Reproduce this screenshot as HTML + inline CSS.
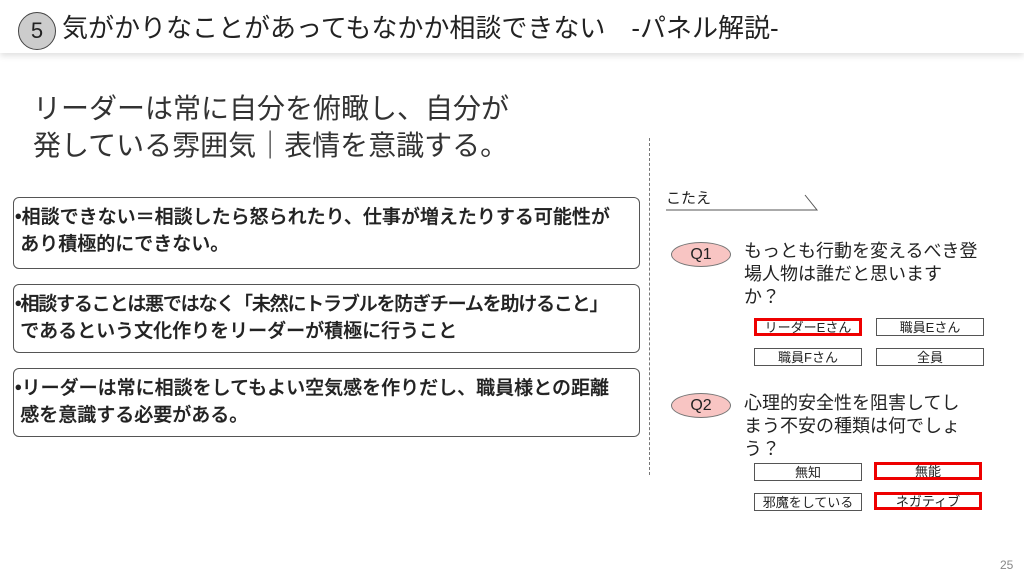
<!DOCTYPE html>
<html><head><meta charset="utf-8"><style>
body{margin:0;width:1024px;height:576px;background:#fff;position:relative;overflow:hidden;font-family:"Liberation Sans","Noto Sans CJK JP",sans-serif;color:#222}
.a{position:absolute;white-space:nowrap}
.hdr{position:absolute;left:0;top:0;width:1024px;height:53px;background:#fff;box-shadow:0 3px 6px rgba(0,0,0,.12)}
.box{position:absolute;left:13px;width:627px;border:1.3px solid #555;border-radius:6px;font-size:19px;font-weight:500;line-height:27px;padding:6px 0 0 1px;box-sizing:border-box;white-space:nowrap;overflow:hidden;-webkit-text-stroke:0.3px #222}
.btn{position:absolute;width:108px;height:18px;border:1.3px solid #555;box-sizing:border-box;font-size:13px;display:flex;align-items:center;justify-content:center;line-height:13px}
.red{border:3px solid #e00}
.ell{position:absolute;width:60px;height:25px;border-radius:50%;background:#f8c5c3;border:1px solid #777;box-sizing:border-box;text-align:center;font-size:16px;line-height:23px}
.q{position:absolute;left:744px;font-size:18px;line-height:23px}
</style></head><body>
<div class="hdr"></div>
<div class="a" style="left:18px;top:12px;width:36px;height:36px;border-radius:50%;background:#ccc;border:1.5px solid #444;text-align:center;font-size:22px;line-height:36px">5</div>
<div class="a" style="left:62px;top:12px;font-size:26px;line-height:32px">気がかりなことがあってもなかか相談できない　-パネル解説-</div>
<div class="a" style="left:33px;top:90px;font-size:28px;line-height:37px;color:#333">リーダーは常に自分を俯瞰し、自分が<br>発している雰囲気｜表情を意識する。</div>
<div class="box" style="top:197px;height:72px">•相談できない＝相談したら怒られたり、仕事が増えたりする可能性が<br>&nbsp;あり積極的にできない。</div>
<div class="box" style="top:284px;height:69px"><span style="letter-spacing:-1.2px">•相談することは悪ではなく「未然にトラブルを防ぎチームを助けること」</span><br>&nbsp;であるという文化作りをリーダーが積極に行うこと</div>
<div class="box" style="top:368px;height:69px">•リーダーは常に相談をしてもよい空気感を作りだし、職員様との距離<br>&nbsp;感を意識する必要がある。</div>
<div class="a" style="left:649px;top:138px;height:337px;border-left:1px dashed #777"></div>
<div class="a" style="left:666px;top:190px;font-size:15px;line-height:18px">こたえ</div>
<svg class="a" style="left:0;top:0" width="1024" height="576"><polyline points="666,210 817,210 805,195" fill="none" stroke="#555" stroke-width="1"/></svg>
<div class="ell" style="left:671px;top:242px">Q1</div>
<div class="q" style="top:240px">もっとも行動を変えるべき登<br>場人物は誰だと思います<br>か？</div>
<div class="btn red" style="left:754px;top:318px">リーダーEさん</div>
<div class="btn" style="left:876px;top:318px">職員Eさん</div>
<div class="btn" style="left:754px;top:348px">職員Fさん</div>
<div class="btn" style="left:876px;top:348px">全員</div>
<div class="ell" style="left:671px;top:393px">Q2</div>
<div class="q" style="top:392px">心理的安全性を阻害してし<br>まう不安の種類は何でしょ<br>う？</div>
<div class="btn" style="left:754px;top:463px">無知</div>
<div class="btn red" style="left:874px;top:462px">無能</div>
<div class="btn" style="left:754px;top:493px">邪魔をしている</div>
<div class="btn red" style="left:874px;top:492px">ネガティブ</div>
<div class="a" style="left:1000px;top:558px;font-size:12px;color:#888">25</div>
</body></html>
